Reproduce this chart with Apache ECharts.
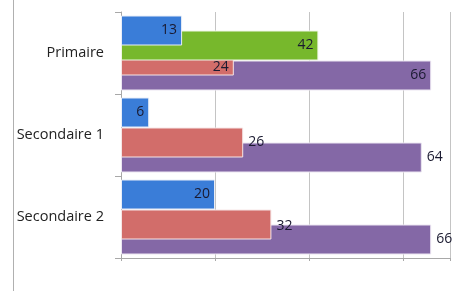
<!DOCTYPE html>
<html><head><meta charset="utf-8">
<script src="https://cdn.jsdelivr.net/npm/echarts@6/dist/echarts.min.js"></script>
<style>html,body{margin:0;padding:0;background:#fff}#c{width:455px;height:291px}</style>
</head><body><div id="c"></div>
<script>
const categories = ['Primaire', 'Secondaire 1', 'Secondaire 2'];
const blueValues = [13, 6, 20];
const greenValues = [42, null, null];
const redValues = [24, 26, 32];
const purpleValues = [66, 64, 66];
const redLabelPos = ['insideRight', 'right', 'right'];
const purpleLabelPos = ['insideRight', 'right', 'right'];

const labelColor = '#1a1a30';
const font = '"Open Sans", sans-serif';
function mk(vals, positions, extra) {
  return vals.map((v, i) => ({
    value: v,
    label: Object.assign({ position: positions ? positions[i] : 'insideRight' }, extra ? extra[i] : {})
  }));
}
const chart = echarts.init(document.getElementById('c'));
const baseLabel = { show: true, color: labelColor, fontSize: 14, fontFamily: font };
chart.setOption({
  animation: false,
  grid: { left: 121, right: 5, top: 12, bottom: 33 },
  xAxis: {
    type: 'value', min: 0, max: 70, interval: 20,
    axisLabel: { show: false },
    axisLine: { show: true, lineStyle: { color: '#a8a8a8' } },
    axisTick: { show: true, length: 3, lineStyle: { color: '#a8a8a8' } },
    splitLine: { show: true, lineStyle: { color: '#c4c4c4' } }
  },
  yAxis: {
    type: 'category', inverse: true, data: categories,
    axisLine: { show: true, lineStyle: { color: '#a8a8a8' } },
    axisTick: { show: true, length: 6, lineStyle: { color: '#a8a8a8' } },
    axisLabel: { color: '#222', fontSize: 14.5, fontFamily: font, margin: 17 }
  },
  graphic: [{ type: 'line', shape: { x1: 13.5, y1: 0, x2: 13.5, y2: 291 }, style: { stroke: '#b0b0b0', lineWidth: 1 } }],
  series: [
    { type: 'bar', name: 'A', data: mk(blueValues), barWidth: 30, barGap: '-50%', z: 5,
      itemStyle: { color: '#3a7dd8', borderColor: '#e8eef8', borderWidth: 1 }, label: baseLabel },
    { type: 'bar', name: 'B', data: mk(greenValues), barWidth: 30, barGap: '-50%', z: 4,
      itemStyle: { color: '#77b82c', borderColor: '#eef6e4', borderWidth: 1 }, label: baseLabel },
    { type: 'bar', name: 'C', data: mk(redValues, redLabelPos, [{ offset: [0, 7] }, {}, { offset: [0, 2] }]), barWidth: 30, barGap: '-50%', z: 3,
      itemStyle: { color: '#d26d6a', borderColor: '#f6e6e6', borderWidth: 1 }, label: baseLabel },
    { type: 'bar', name: 'D', data: mk(purpleValues, purpleLabelPos), barWidth: 30, barGap: '-50%', z: 2,
      itemStyle: { color: '#8468a6', borderColor: '#ece6f2', borderWidth: 1 }, label: baseLabel }
  ]
});
</script></body></html>
